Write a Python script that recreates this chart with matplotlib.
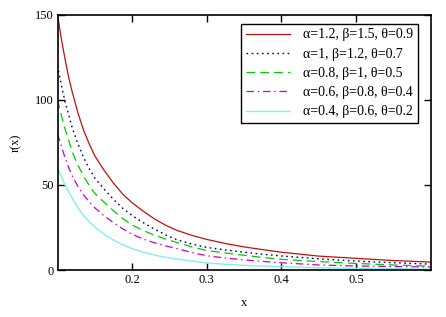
import matplotlib
matplotlib.use("Agg")
import matplotlib.pyplot as plt

x = [0.1, 0.105, 0.11, 0.115, 0.12, 0.1275, 0.135, 0.1425, 0.15, 0.1625, 0.175, 0.1875,
     0.2, 0.215, 0.23, 0.245, 0.26, 0.28, 0.3, 0.325, 0.35, 0.375, 0.4, 0.45, 0.5, 0.55, 0.6]
r_red = [150, 136, 124, 113, 104, 92, 82, 74, 67, 58.5, 51, 44.5,
         39.5, 34.5, 30, 26.3, 23.3, 20.4, 18, 15.6, 13.6, 12, 10.5, 8.2, 6.9, 5.6, 4.7]
r_blue = [120, 109, 99, 91, 83, 74, 66, 59.5, 54, 47.5, 41.5, 36.2,
          32, 27.8, 24, 20.6, 17.8, 15.3, 13.3, 11.8, 10.5, 9.3, 8.3, 6.6, 5.3, 4.3, 3.5]
r_green = [100, 91, 83, 76, 69, 61.5, 55, 49.7, 45, 39.8, 34.8, 30.2,
           26.5, 23.2, 20.5, 18.2, 16.2, 13.6, 11.5, 10, 8.7, 7.4, 6.3, 5.0, 3.9, 3.0, 2.3]
r_magenta = [80, 73, 66, 60, 55, 49, 44, 40, 36.5, 31.8, 27.8, 24.2,
             21, 18.2, 16, 14.2, 12.6, 10.3, 8.4, 7.1, 6.0, 5.1, 4.3, 3.0, 2.4, 2.1, 1.8]
r_cyan = [60, 55, 50, 46, 42, 36.5, 32, 28.3, 25.2, 21, 17.6, 14.8,
          12.6, 10.5, 8.8, 7.5, 6.5, 5.3, 4.2, 3.4, 2.8, 2.4, 2.0, 1.3, 1.0, 0.8, 0.5]
labels = ["α=1.2, β=1.5, θ=0.9", "α=1, β=1.2, θ=0.7", "α=0.8, β=1, θ=0.5",
          "α=0.6, β=0.8, θ=0.4", "α=0.4, β=0.6, θ=0.2"]
xticks = [0.2, 0.3, 0.4, 0.5]
yticks = [0, 50, 100, 150]

plt.rcParams['font.family'] = ['Liberation Serif', 'DejaVu Serif']

fig = plt.figure(figsize=(4.46, 3.17), dpi=100)
ax = fig.add_axes([0.129, 0.148, 0.8367, 0.806])

ax.plot(x, r_red, color='#C01010', lw=0.9, ls='-', label=labels[0])
ax.plot(x, r_blue, color='#000080', lw=1.0, ls=(0, (1.2, 2.5)), label=labels[1])
ax.plot(x, r_green, color='#00CC00', lw=0.9, ls=(0, (7, 4)), label=labels[2])
ax.plot(x, r_magenta, color='#CC00CC', lw=0.9, ls=(0, (6, 3, 1.2, 3)), label=labels[3])
ax.plot(x, r_cyan, color='#80F0F0', lw=1.0, ls='-', label=labels[4])

ax.set_xlim(0.1, 0.6)
ax.set_ylim(0, 150)
ax.set_xticks(xticks)
ax.set_xticklabels([str(t) for t in xticks])
ax.set_yticks(yticks)
ax.set_yticklabels([str(t) for t in yticks])
ax.tick_params(direction='in', length=5, width=1, top=True, right=True,
               labelsize=9, pad=3)
for s in ax.spines.values():
    s.set_linewidth(1.2)

ax.set_xlabel('x', fontsize=9, labelpad=8)
ax.set_ylabel('r(x)', fontsize=9, labelpad=20)
ax.yaxis.set_label_coords(-0.095, 0.5)

leg = ax.legend(loc='upper right', bbox_to_anchor=(0.965, 0.965), fontsize=10,
                frameon=True, fancybox=False, edgecolor='black', framealpha=1,
                handlelength=3.2, labelspacing=0.45, borderpad=0.35,
                handletextpad=0.9, borderaxespad=0)
leg.get_frame().set_linewidth(1.0)

fig.savefig('out.png', dpi=100)
